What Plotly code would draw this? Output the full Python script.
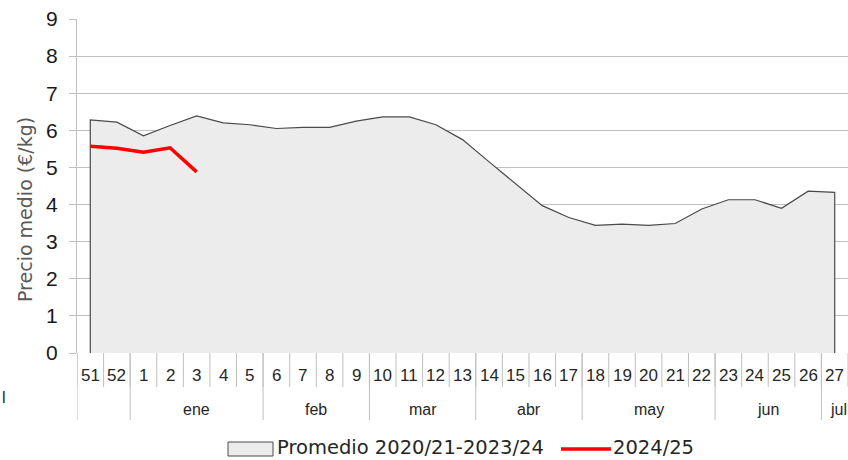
import plotly.graph_objects as go

weeks = ["51", "52"] + [str(w) for w in range(1, 28)]
promedio = [6.28, 6.22, 5.85, 6.13, 6.39, 6.20, 6.15, 6.05, 6.08, 6.08, 6.25, 6.36, 6.36,
            6.15, 5.75, 5.15, 4.55, 3.97, 3.65, 3.44, 3.47, 3.44, 3.49, 3.88, 4.13,
            4.13, 3.90, 4.36, 4.33]
actual = [5.57, 5.52, 5.41, 5.53, 4.88]
months = ["ene", "feb", "mar", "abr", "may", "jun", "jul"]
month_first_week = ["1", "6", "10", "14", "18", "23", "27"]
month_last_week = ["5", "9", "13", "17", "22", "26", None]
yticks = list(range(0, 10))

idx = list(range(len(weeks)))
n = len(weeks)

fig = go.Figure()
# area polygon closed to the zero line
fig.add_trace(go.Scatter(
    x=[idx[0]] + idx + [idx[-1]],
    y=[0] + promedio + [0],
    mode="lines", fill="toself", fillcolor="#ececec",
    line=dict(color="#4a4a4a", width=1.2), hoverinfo="skip", showlegend=False))
fig.add_trace(go.Scatter(
    x=idx[:len(actual)], y=actual, mode="lines",
    line=dict(color="#ff0000", width=3.5), showlegend=False))

top, bot = 19, 353
H = bot - top
W = 848 - 77

def py(p):
    return (bot - p) / H

def px(p):
    return (p - 77) / W

shapes = []
ann = []
row1 = py(387)
row2 = py(420)
# week separators
for i in range(n + 1):
    xb = i - 0.5
    shapes.append(dict(type="line", xref="x", yref="paper", x0=xb, x1=xb, y0=0, y1=row1,
                       line=dict(color="#bfbfbf", width=1)))
# month separators
month_bounds = [-0.5] + [weeks.index(w) - 0.5 for w in month_first_week]
for xb in month_bounds:
    shapes.append(dict(type="line", xref="x", yref="paper", x0=xb, x1=xb, y0=0, y1=row2,
                       line=dict(color="#bfbfbf", width=1)))
for i, w in enumerate(weeks):
    ann.append(dict(x=i, y=py(375), xref="x", yref="paper", text=w, showarrow=False,
                    font=dict(family="Liberation Sans", size=17, color="#262626"),
                    xanchor="center", yanchor="middle"))
for m, f, l in zip(months, month_first_week, month_last_week):
    a = weeks.index(f)
    if l is None:
        # last group runs past the right edge: keep its label inside the figure
        ann.append(dict(x=1, y=py(409), xref="paper", yref="paper", text=m, showarrow=False,
                        font=dict(family="Liberation Sans", size=16, color="#262626"),
                        xanchor="right", yanchor="middle", borderpad=0))
        continue
    b = weeks.index(l)
    ann.append(dict(x=(a + b) / 2, y=py(409), xref="x", yref="paper", text=m, showarrow=False,
                    font=dict(family="Liberation Sans", size=16, color="#262626"),
                    xanchor="center", yanchor="middle"))
ann.append(dict(x=px(4), y=py(398), xref="paper", yref="paper", text="l", showarrow=False,
                font=dict(family="Liberation Sans", size=16, color="#262626"),
                xanchor="center", yanchor="middle"))

# y axis title
ann.append(dict(x=px(25), y=py(210), xref="paper", yref="paper", text="Precio medio (€/kg)",
                textangle=-90, showarrow=False, xanchor="center", yanchor="middle",
                font=dict(family="DejaVu Sans", size=19, color="#595959")))

# legend (manual)
shapes.append(dict(type="rect", xref="paper", yref="paper", x0=px(228), x1=px(273),
                   y0=py(456), y1=py(442), fillcolor="#ececec",
                   line=dict(color="#4a4a4a", width=1)))
ann.append(dict(x=px(276), y=py(447), xref="paper", yref="paper",
                text="Promedio 2020/21-2023/24", showarrow=False, xanchor="left", yanchor="middle",
                borderpad=0, font=dict(family="DejaVu Sans", size=19.5, color="#262626")))
shapes.append(dict(type="line", xref="paper", yref="paper", x0=px(561), x1=px(611),
                   y0=py(449), y1=py(449), line=dict(color="#ff0000", width=3.5)))
ann.append(dict(x=px(612), y=py(447), xref="paper", yref="paper",
                text="2024/25", showarrow=False, xanchor="left", yanchor="middle",
                borderpad=0, font=dict(family="DejaVu Sans", size=19.5, color="#262626")))

fig.update_layout(
    width=848, height=460,
    margin=dict(l=77, r=0, t=top, b=460 - bot),
    paper_bgcolor="white", plot_bgcolor="white",
    shapes=shapes, annotations=ann,
    showlegend=False,
    xaxis=dict(range=[-0.5, n - 0.5], showticklabels=False, showgrid=False, zeroline=False,
               showline=False, ticks=""),
    yaxis=dict(range=[0, 9], tickvals=yticks, showgrid=True, gridcolor="#c0c0c0", gridwidth=1,
               zeroline=False, showline=True, linecolor="#bfbfbf", linewidth=1,
               ticks="outside", ticklen=7, tickcolor="#bfbfbf", ticklabelstandoff=7,
               tickfont=dict(family="Liberation Sans", size=21, color="#1a1a1a")),
)

fig.write_html("out.html", post_script="document.body.style.margin='0px';",
               config={"displayModeBar": False})
